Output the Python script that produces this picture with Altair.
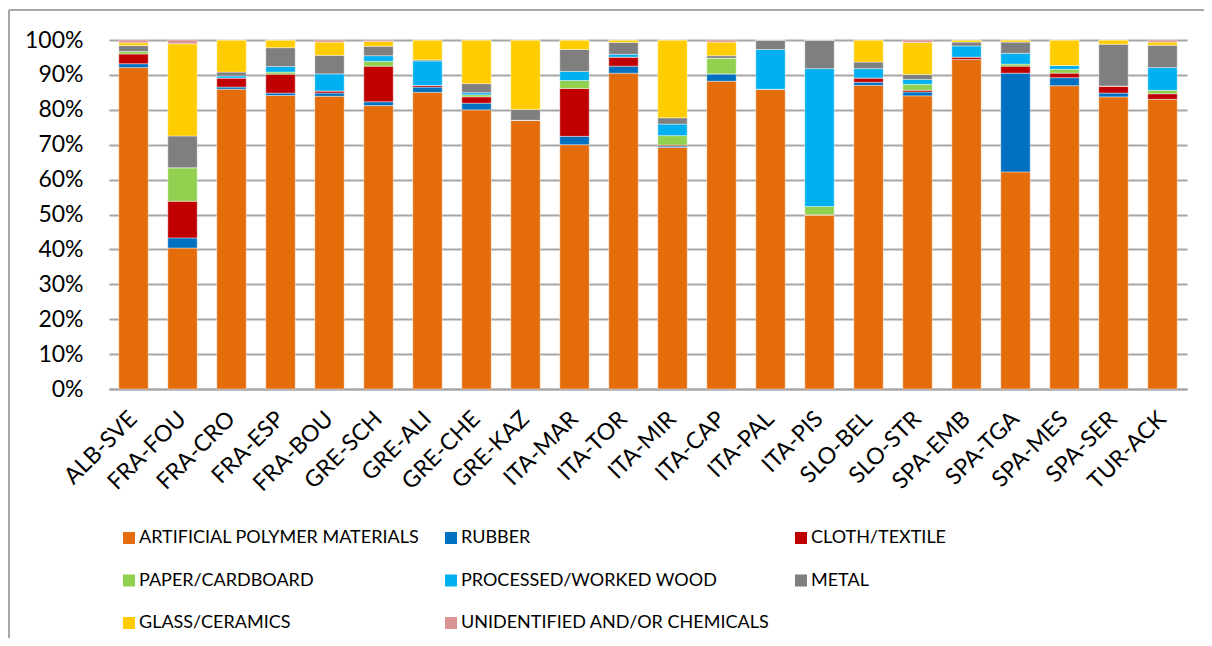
import altair as alt
import pandas as pd

sites = ["ALB-SVE", "FRA-FOU", "FRA-CRO", "FRA-ESP", "FRA-BOU", "GRE-SCH", "GRE-ALI",
         "GRE-CHE", "GRE-KAZ", "ITA-MAR", "ITA-TOR", "ITA-MIR", "ITA-CAP", "ITA-PAL",
         "ITA-PIS", "SLO-BEL", "SLO-STR", "SPA-EMB", "SPA-TGA", "SPA-MES", "SPA-SER", "TUR-ACK"]

materials = ["ARTIFICIAL POLYMER MATERIALS", "RUBBER", "CLOTH/TEXTILE", "PAPER/CARDBOARD",
             "PROCESSED/WORKED WOOD", "METAL", "GLASS/CERAMICS", "UNIDENTIFIED AND/OR CHEMICALS"]
colors = ["#E46C0A", "#0070C0", "#C00000", "#92D050", "#00B0F0", "#7F7F7F", "#FFCC00", "#D99594"]

polymer = [92.1, 40.4, 85.9, 84.1, 83.9, 81.2, 85.0, 80.0, 77.0, 70.0, 90.5, 69.2, 88.2, 85.9, 49.9, 87.0, 84.0, 94.4, 62.2, 86.9, 83.7, 83.0]
rubber  = [1.1, 2.9, 0.6, 0.7, 0.9, 1.1, 1.5, 1.9, 0.0, 2.4, 2.0, 0.4, 2.1, 0.0, 0.0, 0.9, 1.1, 0.0, 28.3, 2.3, 1.1, 0.0]
cloth   = [2.8, 10.5, 2.6, 5.4, 0.6, 10.2, 0.5, 1.8, 0.0, 13.7, 2.6, 0.3, 0.0, 0.0, 0.0, 1.2, 0.5, 0.7, 2.0, 1.3, 2.0, 1.6]
paper   = [0.7, 9.6, 0.0, 0.6, 0.0, 1.4, 0.0, 0.6, 0.0, 2.3, 0.0, 2.7, 4.5, 0.0, 2.4, 0.0, 1.7, 0.0, 0.6, 1.1, 0.0, 1.0]
wood    = [0.0, 0.0, 0.6, 1.6, 4.9, 1.6, 7.0, 0.6, 0.0, 2.6, 0.8, 3.3, 0.0, 11.4, 39.5, 2.7, 1.4, 3.2, 3.1, 1.1, 0.0, 6.5]
metal   = [1.7, 9.1, 1.1, 5.4, 5.3, 2.7, 0.3, 2.6, 3.1, 6.3, 3.4, 1.8, 0.7, 2.7, 8.2, 1.9, 1.4, 1.1, 3.2, 0.0, 12.0, 6.4]
glass   = [0.8, 26.4, 9.2, 2.2, 3.8, 1.4, 5.7, 12.5, 19.9, 2.7, 0.7, 22.3, 3.9, 0.0, 0.0, 6.3, 9.2, 0.6, 0.6, 7.3, 1.2, 0.9]
unident = [0.8, 1.1, 0.0, 0.0, 0.6, 0.4, 0.0, 0.0, 0.0, 0.0, 0.0, 0.0, 0.6, 0.0, 0.0, 0.0, 0.7, 0.0, 0.0, 0.0, 0.0, 0.6]

series = [polymer, rubber, cloth, paper, wood, metal, glass, unident]
rows = []
for mi, (m, vals) in enumerate(zip(materials, series)):
    for s, v in zip(sites, vals):
        rows.append({"site": s, "material": m, "idx": mi, "value": v})
df = pd.DataFrame(rows)

# legend fills column by column: arrange so it reads row by row like the original
legend_order = [0, 3, 6, 1, 4, 7, 2, 5]
leg_domain = [materials[i] for i in legend_order]
leg_range = [colors[i] for i in legend_order]

FONT = "Lato"
W, H = 1078, 349

bars = alt.Chart(df).mark_bar(stroke="white", strokeWidth=0.8, strokeOpacity=0.5).encode(
    x=alt.X("site:N", sort=sites, title=None,
            scale=alt.Scale(paddingInner=0.4, paddingOuter=0.2),
            axis=alt.Axis(labelAngle=-45, labelAlign="right", labelBaseline="middle",
                          labelFontSize=23, labelFont=FONT, labelColor="#000000",
                          ticks=False, tickSize=0, labelPadding=26, labelOffset=0,
                          domainColor="#A6A6A6", domainWidth=2, grid=False)),
    y=alt.Y("value:Q", stack="normalize", title=None,
            scale=alt.Scale(domain=[0, 1], nice=False),
            axis=alt.Axis(format=".0%", values=[i / 10 for i in range(11)], labelFontSize=23,
                          labelFont=FONT, labelColor="#000000", ticks=False, tickSize=0,
                          labelPadding=26, domain=False, gridColor="#A6A6A6", gridWidth=2)),
    color=alt.Color("material:N", sort=leg_domain,
                    scale=alt.Scale(domain=leg_domain, range=leg_range),
                    legend=alt.Legend(title=None, orient="none", legendX=11, legendY=489,
                                      columns=3, columnPadding=22, rowPadding=24.5,
                                      symbolType="square", symbolSize=144, symbolStrokeWidth=0,
                                      labelFont=FONT, labelFontSize=18, labelColor="#000000",
                                      labelOffset=1, padding=0, labelLimit=400)),
    order=alt.Order("idx:Q", sort="ascending"),
)

frame_v = alt.Chart(df).mark_rule(color="#A6A6A6", strokeWidth=1.5).encode(
    x=alt.value(-100), y=alt.value(-30), y2=alt.value(H + 249))
frame_h = alt.Chart(df).mark_rule(color="#A6A6A6", strokeWidth=1.5).encode(
    y=alt.value(-30), x=alt.value(-100), x2=alt.value(W + 17))

chart = alt.layer(frame_v, frame_h, bars).properties(
    width=W, height=H,
    padding={"left": 101, "top": 32, "right": 17, "bottom": 249},
    autosize=alt.AutoSizeParams(type="none"),
).configure_view(stroke=None)

chart.save("out.html", embed_options={"renderer": "svg", "actions": False})
